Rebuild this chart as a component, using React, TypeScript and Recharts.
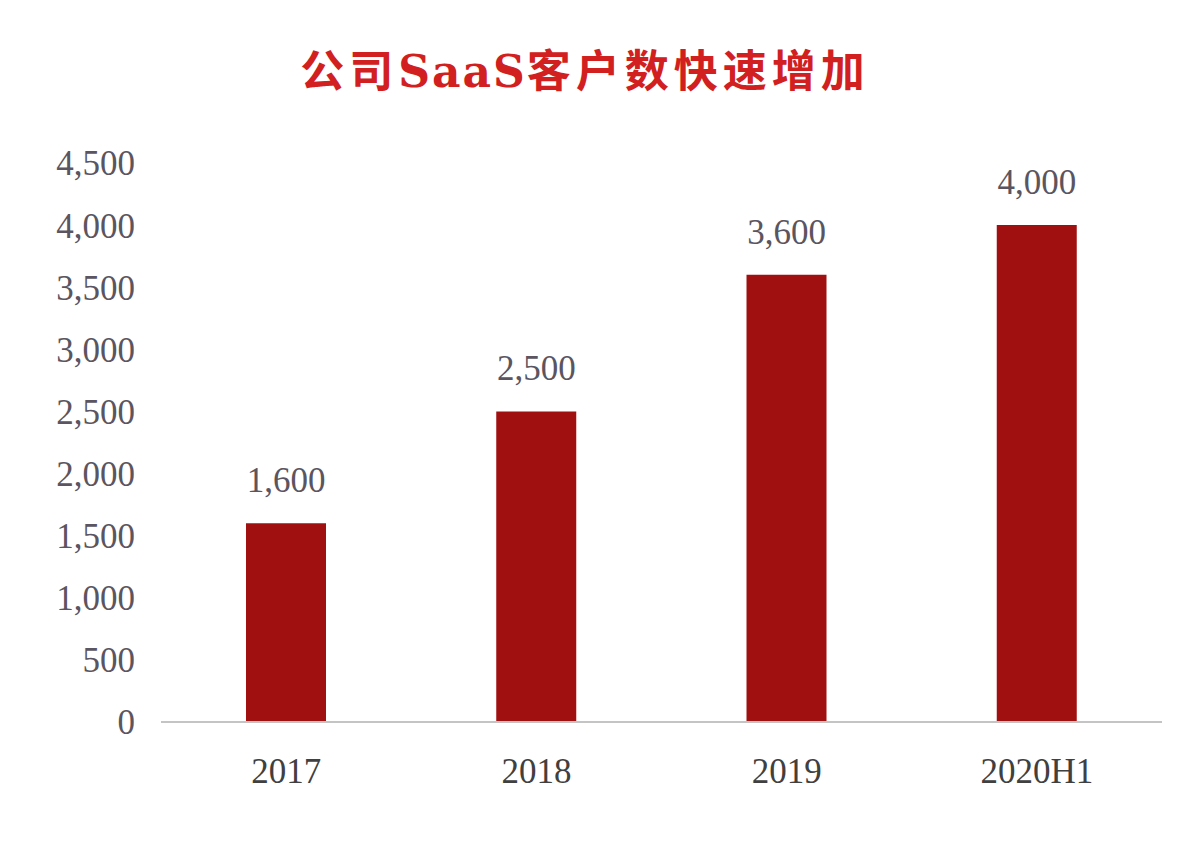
import { BarChart, Bar, XAxis, YAxis, LabelList } from "recharts";

const categories = ["2017", "2018", "2019", "2020H1"];
const customers = [1600, 2500, 3600, 4000];
const yTicks = [0, 500, 1000, 1500, 2000, 2500, 3000, 3500, 4000, 4500];

const data = categories.map((name, i) => ({ name, value: customers[i] }));

const fmt = (v: number) => v.toLocaleString("en-US");

const serif = "'Liberation Serif', 'DejaVu Serif', serif";

export default function App() {
  return (
    <div style={{ position: "absolute", left: 0, top: 0, width: 1184, height: 866, background: "#fff" }}>
      <div
        style={{
          position: "absolute",
          left: 0,
          width: 1170,
          top: 40,
          textAlign: "center",
          fontFamily: "'Noto Sans CJK SC', 'DejaVu Serif', serif",
          fontWeight: 700,
          fontSize: 44,
          letterSpacing: 5,
          color: "#d22020",
          lineHeight: "56px",
        }}
      >
        公司<span style={{ fontFamily: "'DejaVu Serif', serif", letterSpacing: 2 }}>SaaS</span>客户数快速增加
      </div>
      <BarChart
        width={1184}
        height={866}
        data={data}
        margin={{ top: 163, right: 22, bottom: 84, left: 0 }}
      >
        <XAxis
          dataKey="name"
          height={60}
          axisLine={{ stroke: "#c4c4c4", strokeWidth: 2 }}
          tickLine={false}
          tickMargin={30}
          tick={{ fill: "#404040", fontSize: 35, fontFamily: serif }}
        />
        <YAxis
          width={161}
          domain={[0, 4500]}
          ticks={yTicks}
          interval={0}
          axisLine={false}
          tickLine={false}
          tickMargin={20}
          tickFormatter={fmt}
          tick={{ fill: "#5a5560", fontSize: 35, fontFamily: serif }}
        />
        <Bar dataKey="value" fill="#a01010" barSize={80} isAnimationActive={false}>
          <LabelList
            dataKey="value"
            position="top"
            offset={31}
            formatter={(v: any) => fmt(Number(v))}
            style={{ fill: "#5a5560", fontSize: 35, fontFamily: serif }}
          />
        </Bar>
      </BarChart>
    </div>
  );
}
